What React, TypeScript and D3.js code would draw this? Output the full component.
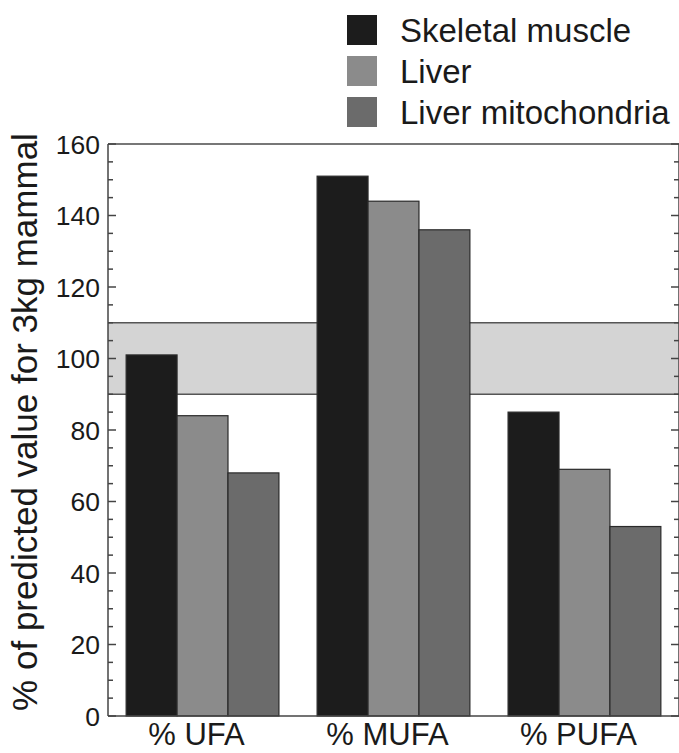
import React from "react";
import * as d3 from "d3";

const categories = ["% UFA", "% MUFA", "% PUFA"];
const seriesNames = ["Skeletal muscle", "Liver", "Liver mitochondria"];
const skeletalMuscle = [101, 151, 85];
const liver = [84, 144, 69];
const liverMito = [68, 136, 53];
const seriesValues = [skeletalMuscle, liver, liverMito];
const seriesColors = ["#1c1c1c", "#8b8b8b", "#6b6b6b"];
const majorTicks = [0, 20, 40, 60, 80, 100, 120, 140, 160];
const bandRange = [90, 110];
const yLabel = "% of predicted value for 3kg mammal";

const W = 679;
const H = 753;
const left = 108;
const right = 679;
const top = 144;
const bottom = 716;

export default function App() {
  const y = d3.scaleLinear().domain([0, 160]).range([bottom, top]);
  const x0 = d3
    .scaleBand<string>()
    .domain(categories)
    .range([left, right])
    .paddingInner(0.2)
    .paddingOuter(0.095);
  const x1 = d3
    .scaleBand<string>()
    .domain(seriesNames)
    .range([0, x0.bandwidth()])
    .padding(0);
  const minorTicks = d3.range(0, 161, 5).filter((v) => v % 20 !== 0);
  const font = "'Liberation Sans', Arial, Helvetica, sans-serif";

  return (
    <svg
      width={W}
      height={H}
      style={{ position: "absolute", left: 0, top: 0, background: "#fff" }}
      fontFamily={font}
    >
      {/* reference band */}
      <rect
        x={left}
        y={y(bandRange[1])}
        width={right - left}
        height={y(bandRange[0]) - y(bandRange[1])}
        fill="#d4d4d4"
      />
      {bandRange.map((v) => (
        <line key={v} x1={left} x2={right} y1={y(v)} y2={y(v)} stroke="#555" strokeWidth={1.5} />
      ))}
      {/* bars */}
      {categories.map((c, ci) => (
        <g key={c} transform={`translate(${x0(c)},0)`}>
          {seriesNames.map((s, si) => (
            <rect
              key={s}
              x={x1(s)}
              y={y(seriesValues[si][ci])}
              width={x1.bandwidth()}
              height={y(0) - y(seriesValues[si][ci])}
              fill={seriesColors[si]}
              stroke="#2a2a2a"
              strokeWidth={1.2}
            />
          ))}
        </g>
      ))}
      {/* frame */}
      <line x1={left} x2={right} y1={top} y2={top} stroke="#777" strokeWidth={2} />
      <line x1={left} x2={right} y1={bottom} y2={bottom} stroke="#444" strokeWidth={1.5} />
      <line x1={left} x2={left} y1={top} y2={bottom} stroke="#444" strokeWidth={1.5} />
      <line x1={right} x2={right} y1={top} y2={bottom} stroke="#444" strokeWidth={1.5} />
      {/* ticks */}
      {majorTicks.map((t) => (
        <g key={"M" + t}>
          <line x1={left} x2={left + 8} y1={y(t)} y2={y(t)} stroke="#444" strokeWidth={1.5} />
          <line x1={right} x2={right - 8} y1={y(t)} y2={y(t)} stroke="#444" strokeWidth={1.5} />
          <text
            x={100}
            y={y(t)}
            dy="0.36em"
            textAnchor="end"
            fontSize={26.5}
            fill="#1a1a1a"
          >
            {t}
          </text>
        </g>
      ))}
      {minorTicks.map((t) => (
        <g key={"m" + t}>
          <line x1={left} x2={left + 5} y1={y(t)} y2={y(t)} stroke="#444" strokeWidth={1.5} />
          <line x1={right} x2={right - 5} y1={y(t)} y2={y(t)} stroke="#444" strokeWidth={1.5} />
        </g>
      ))}
      {/* x labels */}
      {categories.map((c) => (
        <text
          key={c}
          x={(x0(c) as number) + x0.bandwidth() / 2 - 6}
          y={745}
          textAnchor="middle"
          fontSize={31}
          fill="#1a1a1a"
        >
          {c}
        </text>
      ))}
      {/* y label */}
      <text
        transform={`translate(37,${(top + bottom) / 2 - 8}) rotate(-90)`}
        textAnchor="middle"
        fontSize={35}
        fill="#1a1a1a"
      >
        {yLabel}
      </text>
      {/* legend */}
      {seriesNames.map((s, i) => (
        <g key={s} transform={`translate(347,${15 + i * 41})`}>
          <rect width={30} height={30} fill={seriesColors[i]} />
          <text x={53} y={15} dy="0.35em" fontSize={33} fill="#1a1a1a">
            {s}
          </text>
        </g>
      ))}
    </svg>
  );
}
